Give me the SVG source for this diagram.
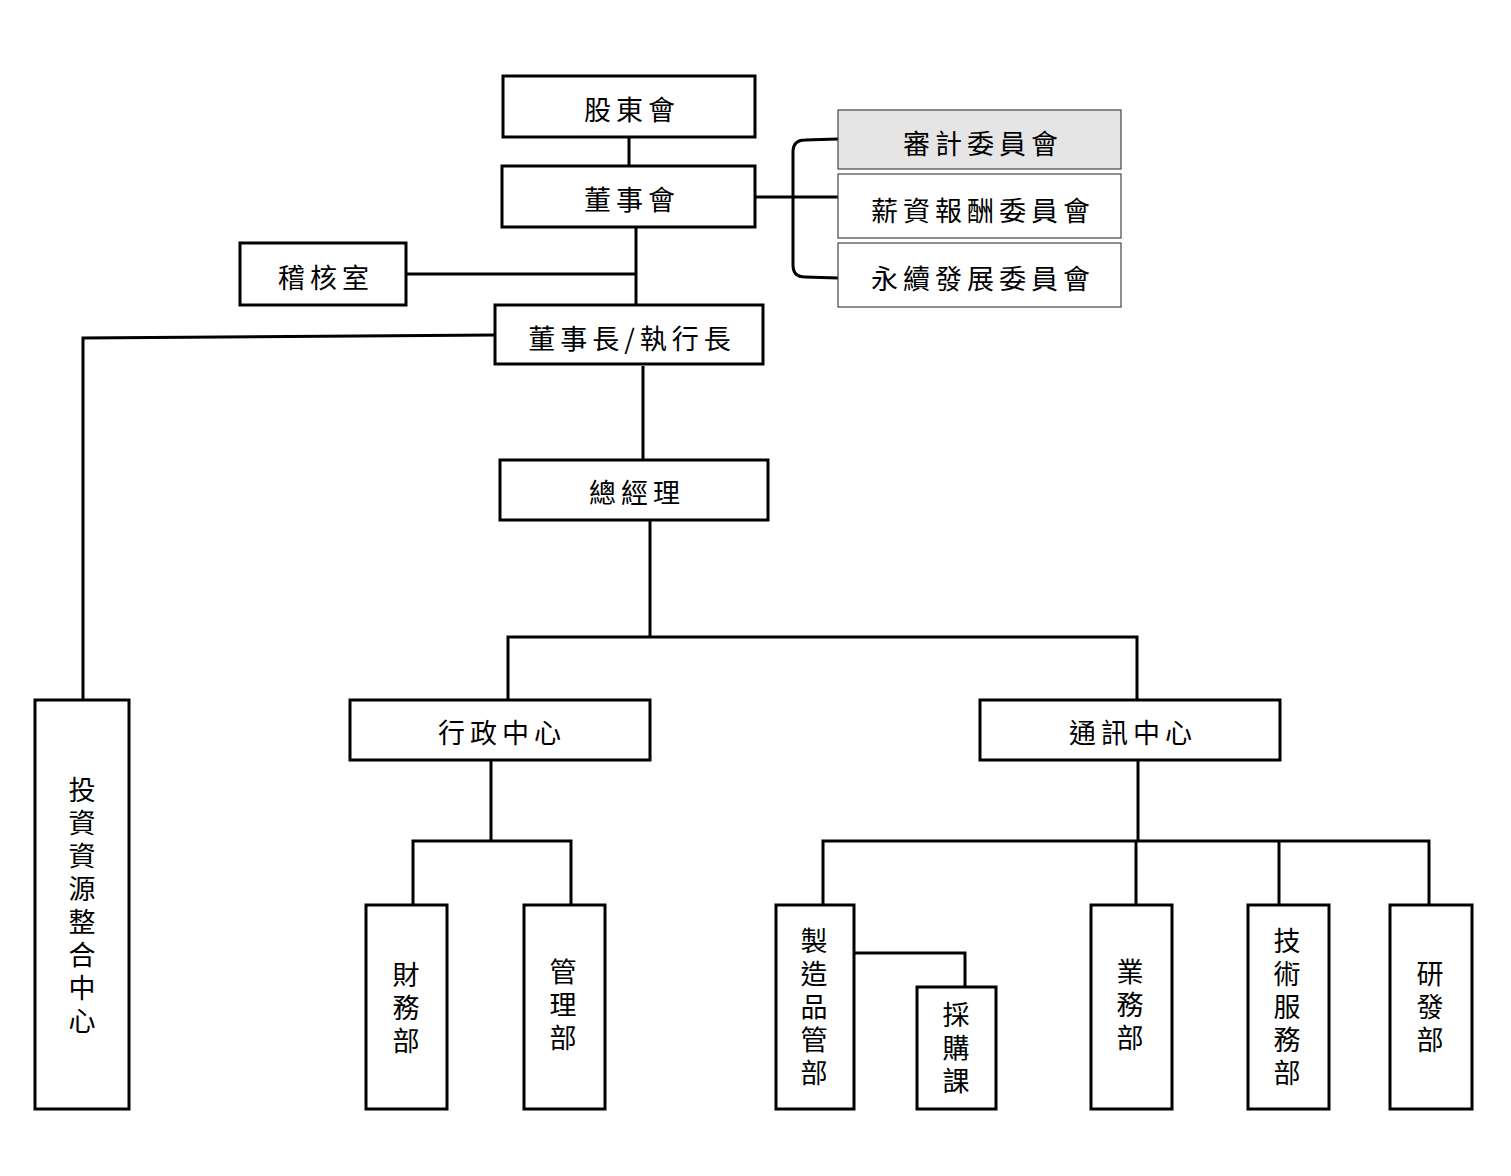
<svg xmlns="http://www.w3.org/2000/svg" width="1511" height="1176" viewBox="0 0 1511 1176">
<style>
.box{fill:#fff;stroke:#000;stroke-width:3}
.cbox{fill:#fff;stroke:#444;stroke-width:1.2}
.gray{fill:#e5e5e5}
.line{fill:none;stroke:#000;stroke-width:3}
text{font-family:"Noto Sans CJK TC","Noto Sans CJK SC",sans-serif;font-size:27px;fill:#000;text-anchor:middle;dominant-baseline:central}
.h{letter-spacing:5px}
.v{writing-mode:vertical-rl;text-orientation:upright;text-anchor:start;letter-spacing:6px}
</style>
<rect x="0" y="0" width="1511" height="1176" fill="#fff"/>
<g id="connectors">
<line class="line" x1="629" y1="137" x2="629" y2="166"/>
<line class="line" x1="755" y1="197" x2="838" y2="197"/>
<path class="line" d="M838,139 L805,140 Q793,140 793,152 L793,265 Q793,277 805,277 L838,278"/>
<line class="line" x1="636" y1="227" x2="636" y2="305"/>
<line class="line" x1="406" y1="274" x2="636" y2="274"/>
<polyline class="line" points="495,335 83,338 83,700"/>
<line class="line" x1="643" y1="366" x2="643" y2="460"/>
<line class="line" x1="650" y1="520" x2="650" y2="637"/>
<polyline class="line" points="508,700 508,637 1137,637 1137,700"/>
<line class="line" x1="491" y1="760" x2="491" y2="841"/>
<polyline class="line" points="413,905 413,841 571,841 571,905"/>
<line class="line" x1="1138" y1="760" x2="1138" y2="841"/>
<polyline class="line" points="823,905 823,841 1429,841 1429,905"/>
<line class="line" x1="1136" y1="841" x2="1136" y2="905"/>
<line class="line" x1="1279" y1="841" x2="1279" y2="905"/>
<polyline class="line" points="854,953 965,953 965,987"/>
</g>
<g id="n-shareholders"><rect class="box" x="503" y="76" width="252" height="61"/><text class="h" x="632" y="108">股東會</text></g>
<g id="n-board"><rect class="box" x="502" y="166" width="253" height="61"/><text class="h" x="632" y="198">董事會</text></g>
<g id="n-audit-committee"><rect class="cbox gray" x="838" y="110" width="283" height="59"/><text class="h" x="983" y="142">審計委員會</text></g>
<g id="n-comp-committee"><rect class="cbox" x="838" y="174" width="283" height="64"/><text class="h" x="983" y="209">薪資報酬委員會</text></g>
<g id="n-esg-committee"><rect class="cbox" x="838" y="243" width="283" height="64"/><text class="h" x="983" y="277">永續發展委員會</text></g>
<g id="n-audit-office"><rect class="box" x="240" y="243" width="166" height="62"/><text class="h" x="326" y="276">稽核室</text></g>
<g id="n-chairman"><rect class="box" x="495" y="305" width="268" height="59"/><text class="h" x="632" y="337">董事長/執行長</text></g>
<g id="n-gm"><rect class="box" x="500" y="460" width="268" height="60"/><text class="h" x="637" y="491">總經理</text></g>
<g id="n-admin"><rect class="box" x="350" y="700" width="300" height="60"/><text class="h" x="502" y="731">行政中心</text></g>
<g id="n-comm"><rect class="box" x="980" y="700" width="300" height="60"/><text class="h" x="1133" y="731">通訊中心</text></g>
<g id="n-invest"><rect class="box" x="35" y="700" width="94" height="409"/><text class="v" x="82" y="776">投資資源整合中心</text></g>
<g id="n-finance"><rect class="box" x="366" y="905" width="81" height="204"/><text class="v" x="406" y="961">財務部</text></g>
<g id="n-management"><rect class="box" x="524" y="905" width="81" height="204"/><text class="v" x="563" y="958">管理部</text></g>
<g id="n-qm"><rect class="box" x="776" y="905" width="78" height="204"/><text class="v" x="814" y="927">製造品管部</text></g>
<g id="n-purchase"><rect class="box" x="917" y="987" width="79" height="122"/><text class="v" x="956" y="1001">採購課</text></g>
<g id="n-sales"><rect class="box" x="1091" y="905" width="81" height="204"/><text class="v" x="1130" y="958">業務部</text></g>
<g id="n-tech"><rect class="box" x="1248" y="905" width="81" height="204"/><text class="v" x="1287" y="927">技術服務部</text></g>
<g id="n-rd"><rect class="box" x="1390" y="905" width="82" height="204"/><text class="v" x="1430" y="960">研發部</text></g>
</svg>
